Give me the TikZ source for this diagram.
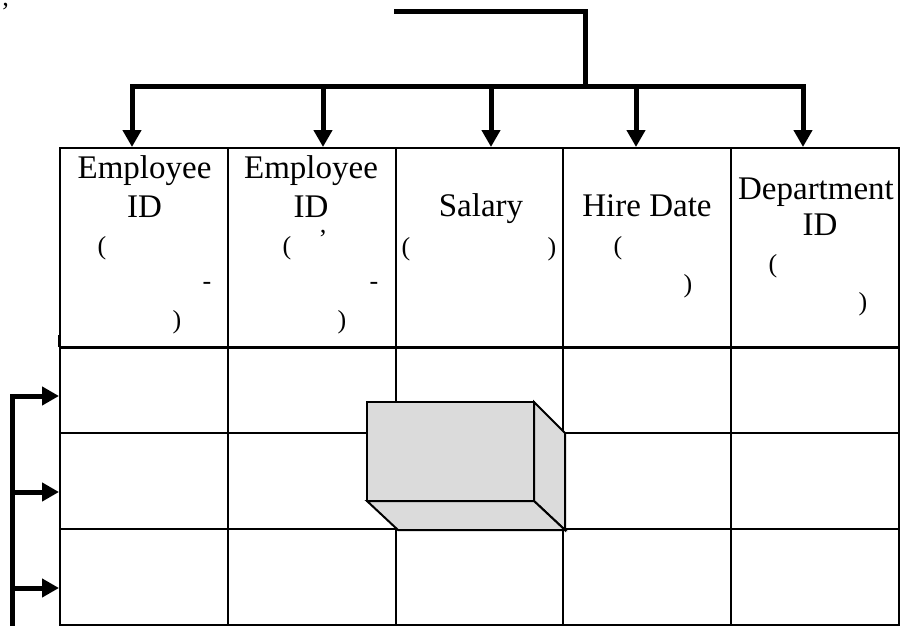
\documentclass[tikz,border=0pt]{standalone}
\usepackage{fontspec}
\setmainfont{Liberation Serif}
\usetikzlibrary{arrows.meta}
\begin{document}
\begin{tikzpicture}[x=1pt,y=-1pt,
  cell/.style={draw, line width=2pt, minimum width=167.8pt, inner sep=0pt},
  conn/.style={line width=5pt, line join=miter},
  tip/.style={-{Triangle[length=17pt,width=18pt]}},
  lbl/.style={font=\fontsize{33}{38}\selectfont, inner sep=0pt, anchor=base},
  punct/.style={font=\fontsize{26}{30}\selectfont, inner sep=0pt, anchor=base},
  block/.style={draw, line width=2pt, fill=black!14, line join=miter}]
\useasboundingbox (0,0) rectangle (903,626);

% header cells and the three body rows
\foreach \i/\cx in {1/143.9, 2/311.7, 3/479.5, 4/647.3, 5/815.1} {
  \node[cell, minimum height=199pt] (h\i) at (\cx,247.5) {};
  \node[cell, minimum height=85pt] (ra\i) at (\cx,390.5) {};
  \node[cell, minimum height=96pt] (rb\i) at (\cx,481) {};
  \node[cell, minimum height=96pt] (rc\i) at (\cx,577) {};
}
\draw[line width=2pt] (ra1.north west) -- ++(0,-12);

% header texts
\node[lbl] (e1) at (144.5,178) {Employee};
\node[lbl] (i1) at (144.5,217) {ID};
\node[lbl] (e2) at (311,178) {Employee};
\node[lbl] (i2) at (311,217) {ID};
\node[lbl] (sal) at (481,216) {Salary};
\node[lbl] (hire) at (647,216) {Hire Date};
\node[lbl] (dep) at (816,199) {Department};
\node[lbl] (i5) at (820,235) {ID};

% punctuation left inside the headers
\node[punct] (p1a) at (102,254) {(};
\node[punct] (p1b) at (207,289) {-};
\node[punct] (p1c) at (177,328) {)};
\node[punct] (p2a) at (287,254) {(};
\node[punct] (p2q) at (323,247) {’};
\node[punct] (p2b) at (374,289) {-};
\node[punct] (p2c) at (342,328) {)};
\node[punct] (p3a) at (406,255) {(};
\node[punct] (p3c) at (552,255) {)};
\node[punct] (p4a) at (618,254) {(};
\node[punct] (p4c) at (688,292) {)};
\node[punct] (p5a) at (773,272) {(};
\node[punct] (p5c) at (863,310) {)};
\node[punct, anchor=base west] (mark) at (1,21) {’};

% top distribution bar
\coordinate (src) at (394,12);
\coordinate (hub) at (585,87);
\coordinate (b1) at (132,87);
\coordinate (b2) at (323,87);
\coordinate (b3) at (491,87);
\coordinate (b4) at (636,87);
\coordinate (b5) at (803,87);
\draw[conn] (src) -| (hub);
\draw[conn, {Triangle[length=17pt,width=18pt]}-{Triangle[length=17pt,width=18pt]}]
  (b1 |- h1.north) -- (b1) -- (b5) -- (b5 |- h5.north);
\foreach \k in {2,3,4} {
  \draw[conn, tip] (b\k) -- (b\k |- h\k.north);
}

% left bracket feeding the rows
\coordinate (l0) at (12,640);
\coordinate (l1) at (12,396);
\coordinate (l2) at (12,492);
\coordinate (l3) at (12,588);
\draw[conn, tip] (l0) -- (l1) -- (l1 -| ra1.west);
\draw[conn, tip] (l2) -- (l2 -| rb1.west);
\draw[conn, tip] (l3) -- (l3 -| rc1.west);

% shaded block over the middle cells
\draw[block] (534,402) -- (565,433) -- (565,530) -- (534,501) -- cycle;
\draw[block] (367,501) -- (534,501) -- (565,530) -- (398,530) -- cycle;
\draw[block] (367,402) rectangle (534,501);
\end{tikzpicture}
\end{document}
